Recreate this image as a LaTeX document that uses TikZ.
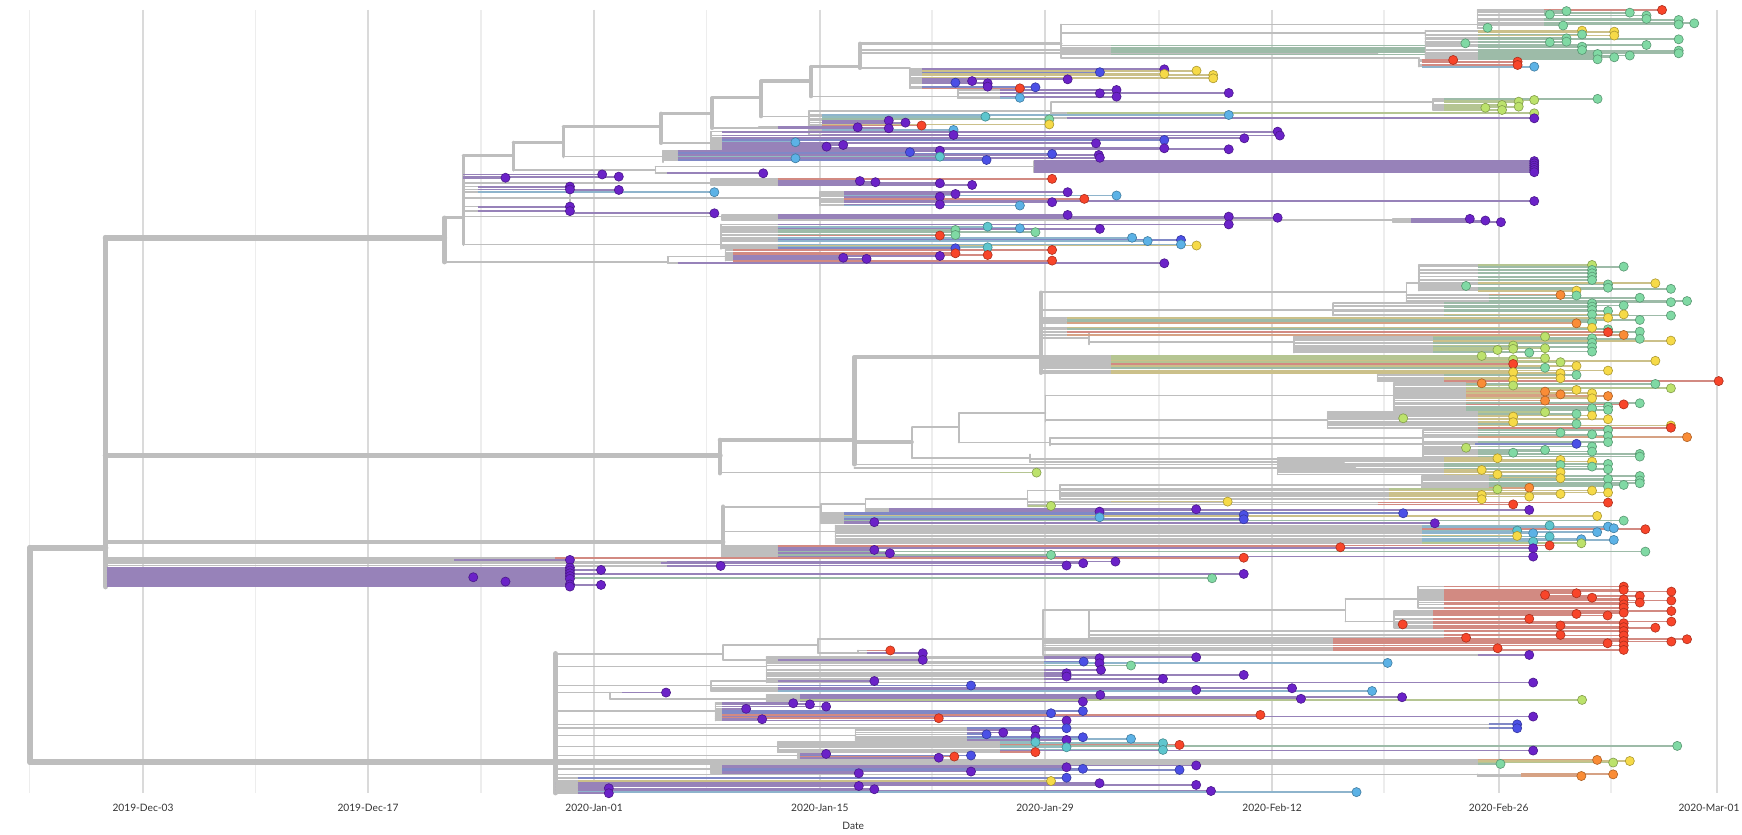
\documentclass[tikz,border=0pt]{standalone}
\usepackage{fontspec}
\setmainfont{Lato}
\definecolor{gridmaj}{HTML}{DADADA}
\definecolor{gridmin}{HTML}{EDEDED}
\definecolor{brgrey}{HTML}{BEBEBE}
\definecolor{cP}{HTML}{6B22C8}\definecolor{bP}{HTML}{9782B9}
\definecolor{cB}{HTML}{4B50E6}\definecolor{bB}{HTML}{8088C6}
\definecolor{cL}{HTML}{5CB2E6}\definecolor{bL}{HTML}{8EB4CC}
\definecolor{cT}{HTML}{5EC6CE}\definecolor{bT}{HTML}{92BCC0}
\definecolor{cG}{HTML}{80D9A4}\definecolor{bG}{HTML}{9DBBA8}
\definecolor{cY}{HTML}{BCE26C}\definecolor{bY}{HTML}{B5C592}
\definecolor{cW}{HTML}{F6DA48}\definecolor{bW}{HTML}{CBC08A}
\definecolor{cO}{HTML}{FA8C36}\definecolor{bO}{HTML}{D6A284}
\definecolor{cR}{HTML}{F8452A}\definecolor{bR}{HTML}{D28A82}
\tikzset{
  w0/.style={draw=brgrey,line width=3.2pt,line cap=round},
  w1/.style={draw=brgrey,line width=2.5pt,line cap=round},
  w2/.style={draw=brgrey,line width=1.9pt,line cap=round},
  brn/.style={draw=brgrey,line width=0.95pt,line cap=round},
  leafln/.style={line width=1pt},
  tipdot/.style={line width=0.35pt},
  ticklab/.style={font=\fontsize{5.8pt}{7pt}\selectfont,text=black!80,inner sep=0pt}
}
% tips are collected and drawn last, above all branches
\newcommand\alltips{}
\newcommand\tipat[3]{\filldraw[tipdot,fill=c#3,draw=c#3!70!black] (#1,#2) circle[radius=2.6pt];}
% one clade: node x, x where the colour starts, list tip-x/y/colour
\newcommand\leafgrp[3]{%
  \foreach \xb/\y/\clr in {#3}{%
    \pgfmathsetmacro\xm{min(#2,\xb)}%
    \draw[brn] (#1,\y) -- (\xm,\y);
    \draw[leafln,draw=b\clr] (\xm,\y) -- (\xb,\y);
    \xdef\alltips{\unexpanded\expandafter{\alltips}\noexpand\tipat{\xb}{\y}{\clr}}%
  }}

\begin{document}
\begin{tikzpicture}[x=0.02222cm,y=-0.02222cm]
\useasboundingbox (0,0) rectangle (1568,751);

% grid and axis
\foreach \x in {26.6,230,433,636,839,1043,1246,1450}
  \draw[gridmin,line width=0.9pt] (\x,9) -- (\x,714);
\foreach \x in {128.7,331.2,534.7,738,940.6,1145,1349,1545.5}
  \draw[gridmaj,line width=0.9pt] (\x,9) -- (\x,714);
\foreach \x/\t [count=\i] in {128.7/2019-Dec-03,331.2/2019-Dec-17,534.7/2020-Jan-01,
    738/2020-Jan-15,940.6/2020-Jan-29,1145/2020-Feb-12,1349/2020-Feb-26}
  \node[ticklab] (tick\i) at (\x,727) {\t};
\node[ticklab,anchor=east] (tick8) at (1566,727) {2020-Mar-01};
\node[ticklab] (datelab) at (768,743) {Date};

% backbone
\draw[w0] (27,493) -- (27,686);
\draw[w0] (27,493) -- (95,493);
\draw[w0] (27,686) -- (500,686);
\draw[w0] (95,214) -- (95,528);
\draw[w0] (95,214) -- (400,214);
\draw[w0] (95,410) -- (648,410);
\draw[w1] (95,488) -- (651,488);

% upper clade
\draw[w1] (400,196) -- (400,236);
\foreach \xa/\xb/\y in {400/417/196,417/462/140,462/507/128,507/595/114,595/641/102,
    641/685/88,685/730/73,730/774/60,774/955/39}
  \draw[w2] (\xa,\y) -- (\xb,\y);
\foreach \x/\ya/\yb in {417/140/220,462/128/153,507/114/141,595/102/129,641/88/115.5,
    685/73/105,730/60/87,774/39/61.5}
  \draw[w2] (\x,\ya) -- (\x,\yb);
\foreach \xa/\xb/\y in {955/1330/22,955/1283/30,955/1277/52,774/819/61.5,730/862/87,
    685/728/105,728/946/100,946/1290/92,641/683/115.5,595/640/129,507/597/141,462/590/153,
    590/931/150,417/640/165,417/738/178,417/650/195,650/1254/198,417/649/220,400/601/236,
    601/653/231,774/1000/45,774/1240/48}
  \draw[brn] (\xa,\y) -- (\xb,\y);
\foreach \x/\ya/\yb in {955/22/52,1330/9/25,1283/27.6/53.4,1277/52/60,819/61.5/79.5,
    862/81/88,728/100/121.5,946/92/106.5,1290/89/99,683/114.6/115.5,640/118.5/134.4,
    597/135.6/146,590/150/156,931/145/155,513/168/192,640/161/166.5,738/173/185,
    650/193.5/198,1254/197/200,649/202/224,601/231/237,653/225/234.6}
  \draw[brn] (\x,\ya) -- (\x,\yb);
\foreach \y in {41,43,45,47,49}{
  \draw[brn] (955,\y) -- (1000,\y);
  \draw[leafln,draw=bG] (1000,\y) -- (1283,\y);}
\leafgrp{1330}{1390}{1496/9/R,1395/13/G,1410/10/G,1467/11.4/G,1482/14/G,1482/17/G,
  1511/18/G,1511/22/G,1525/21/G,1407/23/G,1339/25/G}
\leafgrp{1283}{1330}{1424/27.6/W,1453/28.5/W,1453/32/W,1424/31/G,1410/34.5/G,1410/37.5/G,
  1395/38/G,1319/39/G,1511/35.4/G,1482/40.5/G,1424/42/G,1424/45/G,1511/45.6/G,
  1511/48/G,1438/48.6/G,1438/53.4/G,1453/51.6/G,1467/50/G}
\leafgrp{1277}{1280}{1308/54/R,1366/55.5/R,1366/58.5/R,1381/60/L}
\leafgrp{819}{830}{990/65/B,1048/62.4/P,1048/66.6/W,1077/63.6/W,1092/67.5/W,1092/70.5/W,
  961/71.4/P,860/74.4/B,875/73/P,889/75/P,889/78/P,918/79.5/R,932/78.6/B}
\leafgrp{862}{900}{1005/81/P,990/84/P,1005/87/P,1106/83.7/P,918/88/L}
\leafgrp{728}{740}{887/105/T,944.5/107.4/G,944.5/112/W,800/108.6/P,815/110.4/P,
  829.5/113/R,858.3/117/L,858.3/121.5/P,1106/103.5/L}
\leafgrp{946}{960}{1381/102/Y,1381/106.5/P}
\leafgrp{1290}{1300}{1337/97/Y,1352/94.5/Y,1352/99/Y,1367/91.5/Y,1367/96/Y,1381/90/Y,1438/89/G}
\leafgrp{683}{700}{772/114.6/P,800/115.5/P}
\leafgrp{640}{650}{716/128/L,744/132/P,759/130.5/P,986.5/129/P,1120/124.5/P,1150/118.5/P,
  1152/122/P,1048/126/B,1048/133.5/P,1106/134.4/P}
\leafgrp{597}{610}{716/142.5/L,819/137/B,846/135.6/P,846/141/T,888/144/B,947/138.6/B,
  989/139.5/P,990/142/P}
\leafgrp{590}{600}{687/156/P}
\fill[bP] (931,144) rectangle (1381,156);
\leafgrp{931}{931}{1381/145/P,1381/147/P,1381/149/P,1381/151/P,1381/153/P,1381/155/P}
\leafgrp{417}{417}{455/160/P,542/157/P,557/159/P}
\leafgrp{417}{430}{513/168/P,513/170.5/P,643/173/L,513/186/P,513/190/P}
\leafgrp{513}{513}{557/171/P,643/192/P}
\leafgrp{640}{700}{774/163/P,788/164/P,846/165/P,875/166.5/P,947/161/R}
\leafgrp{738}{760}{860/174.6/P,846/177/P,846/184/P,918/185/L,947/182/P,961/173/P,
  976/179/R,1005/176/L,1381/181/P}
\leafgrp{650}{700}{961/193.5/P,1106/195/P,1150/196/P}
\leafgrp{1254}{1270}{1323/197/P,1337/198.5/P,1351/200/P}
\leafgrp{649}{700}{1106/202/P,889/204/T,918/205.5/L,990/206/P,860/207/G,932/209/G,
  860/211.5/G,846/212/R,1019/214/L,1063/216/B,1033/217/L,1063/220/L,1077/221/W,
  889/222.6/T,860/223.5/B}
\leafgrp{653}{660}{947/225/R,860/228/R,889/229.5/R,846/230.4/P,759/232/P,780/233/P,947/234.6/R}
\leafgrp{601}{610}{1048/237/P}

% middle clade
\draw[w1] (648,396) -- (648,426);
\draw[w1] (648,396) -- (769,396);
\draw[w1] (769,321.6) -- (769,418);
\draw[w1] (769,321.6) -- (937,321.6);
\draw[w2] (937,263) -- (937,336);
\draw[w2] (769,398) -- (821,398);
\draw[w1] (651,456) -- (651,501);
\foreach \xa/\xb/\y in {937/1266/263,1266/1277/255,937/1200/279,937/980/304.5,980/1165/308,
    937/1240/336,821/863/384.6,863/941/372,941/1254.5/356,941/1195/378,863/945/398.4,
    945/1281/394,821/927/412.5,927/1150/413,769/1200/418,769/1220/421,927/1210/416,
    651/739/456.6,739/779/453.6,779/925/449,925/954/441.6,954/1280/436.5,651/752/478.5}
  \draw[brn] (\xa,\y) -- (\xb,\y);
\foreach \x/\ya/\yb in {1266/255/272,1277/238.5/261.6,1200/273/284,980/300/310,
    1165/303/317.4,1240/336/343,821/384.6/412.5,863/372/398.4,941/356/379.5,
    1254.5/345/369,1195/371/385,945/394/401,1281/387/411,927/409/416,1150/412.5/427,
    739/453.6/471,779/449/460.5,925/441.6/455.4,954/436.5/449.4,1280/428.5/439,752/473/489}
  \draw[brn] (\x,\ya) -- (\x,\yb);
\leafgrp{1277}{1330}{1433/238.5/Y,1461.5/240/G,1433/243/G,1433/246/G,1433/249/G,
  1433/252/G,1490/255/W,1447.4/256/G,1319.6/257.4/G,1447.4/259/G,1504/260/G,1419/261.6/W}
\leafgrp{1266}{1340}{1404.6/265.5/O,1419/266/G,1476/268/G,1518.5/271/G,1504/272/G}
\leafgrp{1200}{1300}{1433/273/G,1461.5/275/G,1433/276/G,1433/279/G,1447.4/280/G,
  1433/283/G,1461.5/283/W,1504/284/G}
\leafgrp{937}{960}{1447.4/286/W,1476/288/G,1433/290/G,1419/291/O,1433/295/W,
  1447.4/296.4/G,1476/298.5/G,1447.4/299/R,1461.5/301.5/O}
\leafgrp{1165}{1290}{1390.7/303/Y,1433/304.5/G,1476/305/G,1504/306.6/W,1433/308.5/G,
  1362/311/Y,1433/312.5/G,1390.7/313.5/Y,1362/314/Y,1347.9/315/Y,1433/316.5/G,1376.5/317.4/G}
\leafgrp{937}{1000}{1333.7/320.4/Y,1390.7/322.4/Y,1362/323.6/Y,1490/324.8/W,1404.6/326/Y,
  1362/327.6/R,1419/329.4/W,1390.7/331/G,1447.4/333.6/W,1362/335/W,1404.6/336/W}
\leafgrp{1240}{1300}{1419/337.5/G,1404.6/340.5/W,1362/342/W,1547/343/R}
\leafgrp{1254.5}{1320}{1333.7/345/O,1362/347/Y,1490/345.6/G,1504/349.5/Y,1419/351/W,
  1390.7/352.5/O,1433/354/W,1404.6/355/O,1447.4/356.5/O,1433/358.5/W,1390.7/360.6/O,
  1476/363/G,1461.5/364/R,1447.4/366/G,1433/367.5/G,1447.4/369/G}
\leafgrp{1195}{1330}{1390.7/371/Y,1419/372.6/G,1433/374/W,1362/375/W,1263/376.5/Y,
  1447.4/377.4/W,1362/380/W,1419/381.6/G,1504/383/W,1504/385/R}
\leafgrp{1281}{1330}{1447.4/387/G,1404.6/389.4/G,1433/391/G,1447.4/392.5/G,1518.5/393.5/O,
  1447.4/398/G,1433/402/G,1319.6/403/Y,1390.7/405/G,1433/406.5/G,1362/407.5/G,
  1476/408.6/G,1476/411/G}
\leafgrp{945}{1328}{1419/399.5/B}
\leafgrp{1150}{1300}{1347.9/412.5/W,1404.6/414/W,1433/415.5/W,1447.4/417.6/G,
  1404.6/418.5/G,1433/420/G,1447.4/422.4/G,1333.7/423/W,1404.6/425/W,1347.9/427/W}
\leafgrp{648}{900}{933/425.4/Y}
\leafgrp{1280}{1340}{1476/428.5/G,1404.6/430.5/W,1447.4/431/G,1476/432.5/G,1476/435/G,
  1461.5/436.5/G,1447.4/438/G,1376.5/439/O}
\leafgrp{954}{1250}{1347.9/440.4/Y,1433/441.6/W,1447.4/443.4/W,1404.6/444.6/W,
  1333.7/445.5/W,1376.5/447/W,1333.7/449.4/W}
\leafgrp{925}{1000}{1105/451.5/W}
\leafgrp{925}{1240}{1447.4/452.4/R,1362/454/R}
\leafgrp{925}{925}{946/455.4/Y}
\leafgrp{779}{800}{1076.7/458.4/P,1376.5/459/P,989.7/460.5/P}
\leafgrp{739}{760}{1263/462/B,1119.5/463.5/B,1437.6/464.4/W,989.7/465.6/L,1119.5/467.4/B,
  1461.5/468.6/G,787/470/P,1291.5/471/P}
\leafgrp{752}{1280}{1394.8/473/T,1447.4/474/L,1452.6/475.5/L,1481/476.4/R,1365.6/477.6/T,
  1437.6/479/L,1380/480/L,1365.6/482.4/W,1394.8/483/T,1423.4/485.4/L,1452.6/486/L,
  1380/487.5/T,1423.4/489/Y}
\leafgrp{651}{700}{1394.8/491/R,1206.5/492.6/R,1380/493.5/P,787/495/P,1481/496.5/G,
  801/498/P,946/499.5/G,1380/501/P}

% early lineages
\leafgrp{95}{500}{1119.5/502/R}
\leafgrp{95}{409}{513/504/P}
\leafgrp{95}{595}{975/507/P}
\leafgrp{95}{600}{1004/505.5/P,960/509/P}
\fill[bP] (96,510) rectangle (513,528.5);
\leafgrp{95}{96}{513/511/P,513/513.5/P,513/516/P,513/518.5/P,426/519.6/P,513/521/P,
  455/523.5/P,513/526/P,513/528/P}
\leafgrp{513}{513}{541/513/P,541/526.5/P,1119.5/516.6/P,1091/520.5/G}
\leafgrp{513}{600}{648.7/509.4/P}

% lower clade
\draw[w1] (500,588) -- (500,714);
\foreach \xa/\xb/\y in {500/651/588.6,651/736.5/580.5,736.5/939/575,939/980/549,
    980/1211/549,1211/1276.5/539,1211/1255/559.5,736.5/772/588,500/690/600,500/640/617,
    500/549/623.4,549/690/629,500/644/640,500/770/662,500/700/672,500/718/680,
    500/1330/697,500/640/692}
  \draw[brn] (\xa,\y) -- (\xb,\y);
\foreach \x/\ya/\yb in {651/580.5/594,736.5/575/588,939/549/589.5,980/549/574,
    1211/539/559.5,1276.5/528/547,1255/550/565,772/585.5/588,690/591.6/614.4,
    640/613/622,549/623.4/629,690/625.5/631.5,644/633/648.6,770/655.5/666,
    700/668/677,718/678.6/682,1330/697/698.5,640/689/696}
  \draw[brn] (\x,\ya) -- (\x,\yb);
\leafgrp{1276.5}{1300}{1461.5/528/R,1461.5/531/R,1504.4/532.5/R,1419/534/R,1390.7/535.5/R,
  1476/536.4/R,1433/538/R,1461.5/539.5/R,1504.4/540.6/R,1476/542.4/R,1461.5/544/R,1461.5/547/R}
\leafgrp{1255}{1290}{1504.4/550/R,1461.5/551.5/R,1419/552.6/R,1447/554/R,1376.5/557/R,
  1504.4/559.5/R,1461.5/561/R,1262.6/562/R,1404.6/563/R,1461.5/564.5/R,1490/565/R}
\leafgrp{980}{1300}{1461.5/568/R,1404.6/571.5/R,1461.5/572/R,1319.6/574/R}
\leafgrp{939}{1200}{1518.5/575.4/R,1461.5/577/R,1504.4/577.5/R,1447/579/R,1461.5/581/R,
  1348/583.5/R,1461.5/585/R}
\leafgrp{939}{1330}{1376.5/589.5/P}
\leafgrp{772}{780}{801.4/585.5/R,830.6/588/P}
\leafgrp{651}{700}{830.6/594/P}
\leafgrp{690}{940}{1076.7/591.6/P,989.7/592.5/P,975.4/595.5/B,989.7/597/P,1249/596.7/L,
  1018/599/G,991/603/P,960/606/P,1119.5/607.5/P,960/609/P,1046.8/611/P,1380/614.4/P}
\leafgrp{640}{700}{787/613/P,874/617/B,1163/619.5/P,1076.7/621/P,1235/622/L}
\leafgrp{549}{560}{599.5/623.4/P}
\leafgrp{690}{720}{990.4/625.5/P,1262/627.6/P,1171/629/P,1424/630/Y,974.7/631.5/P}
\leafgrp{644}{650}{714/633/P,729/634/P,743.6/636/P,671.6/638/P,974.7/640/B,946/642/B,
  1134.5/643.5/R,1380/645/P,845/646.5/R,686/647.4/P,960/648.6/P}
\leafgrp{500}{1340}{1365.6/652/B,1365.6/655.5/B}
\leafgrp{770}{870}{960/655.5/B,932/657/P,903/659.4/P,888/661/B,932/663/P,974.7/663.6/B,
  1018/665/L,960/666/P}
\leafgrp{700}{900}{932/668/T,1046.8/669/T,1061.7/670.5/R,1509.7/671.4/G,960/672.6/T,
  1046.8/675/T,1380/675.6/P,932/677/R}
\leafgrp{718}{720}{743.6/678.6/P,874/680/B,859/681/R,845/682/P}
\leafgrp{500}{1330}{1437.6/684/O,1467/685/W,1452/686.4/Y,1350.6/687.6/G}
\leafgrp{640}{650}{1076.7/689/P,960/690.6/P,974.7/692/B,1061.7/693/B,874/694.5/P,773/696/P}
\leafgrp{1330}{1369}{1452/697/O,1423.4/698.5/O}
\fill[bP] (500,704) rectangle (548,715);
\leafgrp{500}{520}{960/700/B,946/703/W,989.7/705/P,1076.7/706.5/P,773/707.5/P,548/709.5/P,
  787/710.4/P,1090/712/P,1221/713/L,548/714/P}

% all tips on top
\alltips
\end{tikzpicture}
\end{document}
